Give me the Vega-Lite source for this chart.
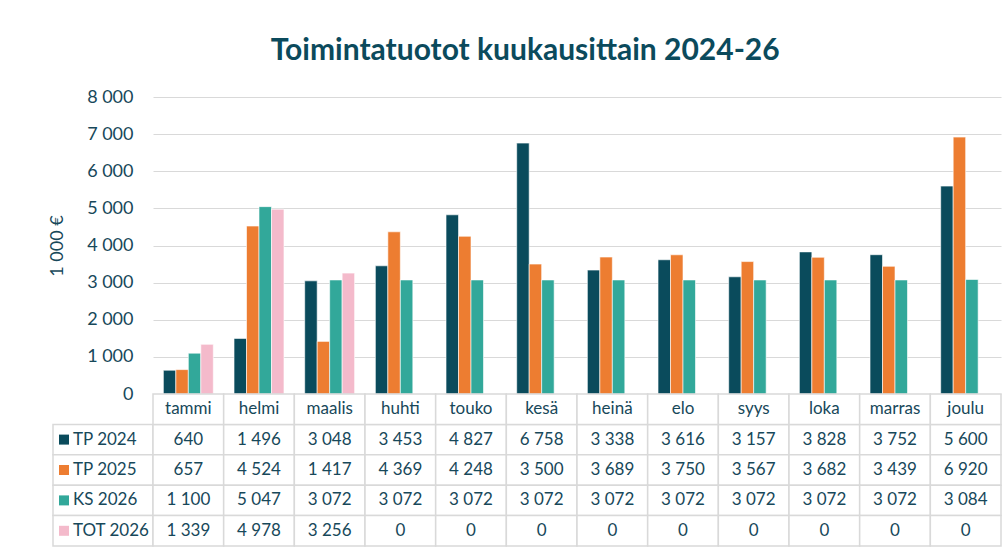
{
  "$schema": "https://vega.github.io/schema/vega-lite/v6.json",
  "background": "white",
  "padding": {"left": 48, "top": 36, "right": 0, "bottom": 0},
  "title": {"text": "Toimintatuotot kuukausittain 2024-26", "font": "Lato", "fontSize": 30, "fontWeight": "bold", "color": "#0b4a5c", "anchor": "middle", "offset": 22},
  "config": {
    "view": {"stroke": null},
    "font": "Lato",
    "locale": {"number": {"decimal": ",", "thousands": " ", "grouping": [3], "currency": ["", " €"]}}
  },
  "datasets": {
    "d": [
      {"m": "tammi", "s": "TP 2024", "v": 640}, {"m": "helmi", "s": "TP 2024", "v": 1496}, {"m": "maalis", "s": "TP 2024", "v": 3048}, {"m": "huhti", "s": "TP 2024", "v": 3453}, {"m": "touko", "s": "TP 2024", "v": 4827}, {"m": "kesä", "s": "TP 2024", "v": 6758}, {"m": "heinä", "s": "TP 2024", "v": 3338}, {"m": "elo", "s": "TP 2024", "v": 3616}, {"m": "syys", "s": "TP 2024", "v": 3157}, {"m": "loka", "s": "TP 2024", "v": 3828}, {"m": "marras", "s": "TP 2024", "v": 3752}, {"m": "joulu", "s": "TP 2024", "v": 5600},
      {"m": "tammi", "s": "TP 2025", "v": 657}, {"m": "helmi", "s": "TP 2025", "v": 4524}, {"m": "maalis", "s": "TP 2025", "v": 1417}, {"m": "huhti", "s": "TP 2025", "v": 4369}, {"m": "touko", "s": "TP 2025", "v": 4248}, {"m": "kesä", "s": "TP 2025", "v": 3500}, {"m": "heinä", "s": "TP 2025", "v": 3689}, {"m": "elo", "s": "TP 2025", "v": 3750}, {"m": "syys", "s": "TP 2025", "v": 3567}, {"m": "loka", "s": "TP 2025", "v": 3682}, {"m": "marras", "s": "TP 2025", "v": 3439}, {"m": "joulu", "s": "TP 2025", "v": 6920},
      {"m": "tammi", "s": "KS 2026", "v": 1100}, {"m": "helmi", "s": "KS 2026", "v": 5047}, {"m": "maalis", "s": "KS 2026", "v": 3072}, {"m": "huhti", "s": "KS 2026", "v": 3072}, {"m": "touko", "s": "KS 2026", "v": 3072}, {"m": "kesä", "s": "KS 2026", "v": 3072}, {"m": "heinä", "s": "KS 2026", "v": 3072}, {"m": "elo", "s": "KS 2026", "v": 3072}, {"m": "syys", "s": "KS 2026", "v": 3072}, {"m": "loka", "s": "KS 2026", "v": 3072}, {"m": "marras", "s": "KS 2026", "v": 3072}, {"m": "joulu", "s": "KS 2026", "v": 3084},
      {"m": "tammi", "s": "TOT 2026", "v": 1339}, {"m": "helmi", "s": "TOT 2026", "v": 4978}, {"m": "maalis", "s": "TOT 2026", "v": 3256}, {"m": "huhti", "s": "TOT 2026", "v": 0}, {"m": "touko", "s": "TOT 2026", "v": 0}, {"m": "kesä", "s": "TOT 2026", "v": 0}, {"m": "heinä", "s": "TOT 2026", "v": 0}, {"m": "elo", "s": "TOT 2026", "v": 0}, {"m": "syys", "s": "TOT 2026", "v": 0}, {"m": "loka", "s": "TOT 2026", "v": 0}, {"m": "marras", "s": "TOT 2026", "v": 0}, {"m": "joulu", "s": "TOT 2026", "v": 0}
    ]
  },
  "columns": 2,
  "spacing": 0,
  "bounds": "flush",
  "resolve": {"scale": {"y": "independent", "x": "independent", "color": "shared"}},
  "concat": [
    {
      "width": 100, "height": 297,
      "data": {"values": [{}]},
      "mark": {"type": "text"},
      "encoding": {"text": {"value": ""}}
    },
    {
      "width": 848, "height": 297,
      "data": {"name": "d"},
      "mark": {"type": "bar", "stroke": "white", "strokeWidth": 0.6},
      "encoding": {
        "x": {"field": "m", "type": "nominal", "scale": {"domain": ["tammi", "helmi", "maalis", "huhti", "touko", "kesä", "heinä", "elo", "syys", "loka", "marras", "joulu"], "paddingInner": 0, "paddingOuter": 0}, "axis": null},
        "xOffset": {"field": "s", "type": "nominal", "scale": {"domain": ["TP 2024", "TP 2025", "KS 2026", "TOT 2026"], "paddingInner": 0, "paddingOuter": 0.83}},
        "y": {"field": "v", "type": "quantitative", "scale": {"domain": [0, 8000], "nice": false},
          "axis": {"title": "1 000 €", "values": [0, 1000, 2000, 3000, 4000, 5000, 6000, 7000, 8000], "format": ",.0f", "grid": true, "gridColor": "#d9d9d9", "gridWidth": 1.2, "domain": false, "ticks": false, "labelPadding": 20, "labelFontSize": 18, "labelColor": "#17485a", "labelFont": "Lato", "titleFont": "Lato", "titleFontSize": 18, "titleFontWeight": "normal", "titleColor": "#17485a", "titlePadding": 20}},
        "color": {"field": "s", "type": "nominal", "scale": {"domain": ["TP 2024", "TP 2025", "KS 2026", "TOT 2026"], "range": ["#0a4b5c", "#ed7d31", "#32a89a", "#f4bacb"]}, "legend": null}
      }
    },
    {
      "width": 100, "height": 152,
      "data": {"name": "d"},
      "transform": [{"filter": "datum.m === 'tammi'"}],
      "encoding": {
        "y": {"field": "s", "type": "nominal", "scale": {"domain": ["hdr", "TP 2024", "TP 2025", "KS 2026", "TOT 2026"], "paddingInner": 0, "paddingOuter": 0}, "axis": null}
      },
      "layer": [
        {"mark": {"type": "rect", "fill": "white", "stroke": "#d9d9d9", "strokeWidth": 1.5}},
        {"mark": {"type": "square", "filled": true, "size": 100, "opacity": 1, "xOffset": -39},
          "encoding": {"color": {"field": "s", "type": "nominal", "legend": null}}},
        {"mark": {"type": "text", "align": "left", "dx": -30, "fontSize": 17, "color": "#17485a"},
          "encoding": {"text": {"field": "s"}}}
      ]
    },
    {
      "width": 848, "height": 152,
      "data": {"name": "d"},
      "encoding": {
        "x": {"field": "m", "type": "nominal", "scale": {"domain": ["tammi", "helmi", "maalis", "huhti", "touko", "kesä", "heinä", "elo", "syys", "loka", "marras", "joulu"], "paddingInner": 0, "paddingOuter": 0}, "axis": null}
      },
      "layer": [
        {"mark": {"type": "rect", "fill": "white", "stroke": "#d9d9d9", "strokeWidth": 1.5},
          "encoding": {"y": {"field": "s", "type": "nominal", "scale": {"domain": ["hdr", "TP 2024", "TP 2025", "KS 2026", "TOT 2026"], "paddingInner": 0, "paddingOuter": 0}, "axis": null}}},
        {"transform": [{"filter": "datum.s === 'TP 2024'"}],
          "mark": {"type": "rect", "fill": "white", "stroke": "#d9d9d9", "strokeWidth": 1.5},
          "encoding": {"y": {"datum": "hdr", "type": "nominal"}}},
        {"mark": {"type": "text", "fontSize": 17, "color": "#17485a"},
          "encoding": {"y": {"field": "s", "type": "nominal"}, "text": {"field": "v", "type": "quantitative", "format": ","}}},
        {"transform": [{"filter": "datum.s === 'TP 2024'"}],
          "mark": {"type": "text", "fontSize": 17, "color": "#17485a"},
          "encoding": {"y": {"datum": "hdr", "type": "nominal"}, "text": {"field": "m"}}}
      ]
    }
  ]
}
